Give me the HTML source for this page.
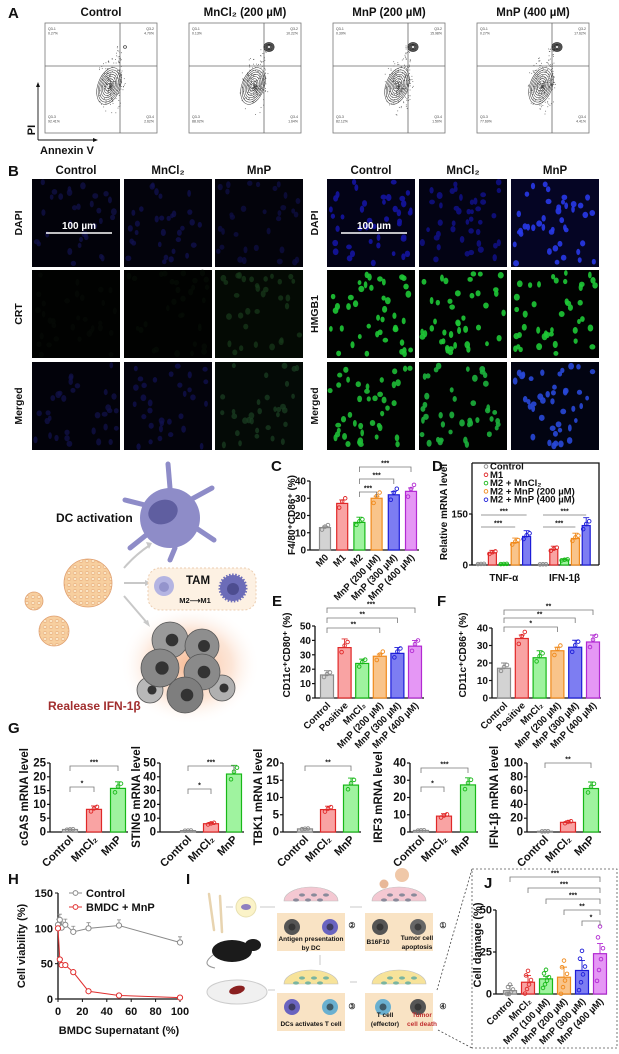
<!DOCTYPE html>
<html><head><meta charset="utf-8"><style>
html,body{margin:0;padding:0;background:#fff;}
svg{display:block;font-family:"Liberation Sans",Arial,sans-serif;font-weight:bold;}
</style></head><body>
<svg id="fig" xmlns="http://www.w3.org/2000/svg" width="619" height="1054" viewBox="0 0 619 1054">
<defs>
<radialGradient id="glow" cx="50%" cy="50%" r="50%"><stop offset="0" stop-color="#f7b48a" stop-opacity="0.9"/><stop offset="0.6" stop-color="#fbd5bd" stop-opacity="0.6"/><stop offset="1" stop-color="#fff" stop-opacity="0"/></radialGradient>
<pattern id="np" width="6" height="6" patternUnits="userSpaceOnUse"><rect width="6" height="6" fill="#f7cf9f"/><ellipse cx="3" cy="3" rx="2" ry="1.4" fill="#fbe6c6" stroke="#e3a06c" stroke-width="0.5"/></pattern>
</defs>
</svg>
<script>
// ---------- DATA ----------
const flowTitles = ["Control","MnCl₂ (200 µM)","MnP (200 µM)","MnP (400 µM)"];
const flowQ1 = ["0.27%","0.13%","0.39%","0.27%"];
const flowQ2 = ["4.70%","10.22%","15.98%","17.62%"];
const flowQ3 = ["92.41%","88.02%","82.12%","77.69%"];
const flowQ4 = ["2.62%","1.64%","1.50%","4.41%"];

const cCats = ["M0","M1","M2","MnP (200 µM)","MnP (300 µM)","MnP (400 µM)"];
const cVals = [13,27,16,30,32,34];
const cErr = [0.8,2,3,1.2,1.8,2];
const cTicks = [0,10,20,30,40];

const dGroups = ["TNF-α","IFN-1β"];
const dSeriesNames = ["Control","M1","M2 + MnCl₂","M2 + MnP (200 µM)","M2 + MnP (400 µM)"];
const dTNF = [3,36,3,66,84];
const dIFN = [2,46,15,78,116];
const dTicks = [0,150];

const efCats = ["Control","Positive","MnCl₂","MnP (200 µM)","MnP (300 µM)","MnP (400 µM)"];
const eVals = [16,35,24,29,31,36];
const eErr = [3,6,3,1.5,4,4];
const eTicks = [10,20,30,40,50];
const fVals = [17,34,23,27,29,32];
const fErr = [3,2,4,2,4,4];
const fTicks = [0,10,20,30,40];

const gGenes = ["cGAS","STING","TBK1","IRF3","IFN-1β"];
const gCats = ["Control","MnCl₂","MnP"];
const gCGAS = [0.9,8.2,15.8];
const gSTING = [1,6,42];
const gTBK1 = [0.9,6.5,13.6];
const gIRF3 = [0.9,9.2,27.3];
const gIFN = [1,14,63];
const gMax = [25,50,20,40,100];
const gStep = [5,10,5,10,20];

const hX = [0,1.5,3,6,12.5,25,50,100];
const hControl = [105,112,101,105,95,100,104,80];
const hMnP = [100,56,48,48,38,11,5,2];
const hXTicks = [0,20,40,60,80,100];
const hYTicks = [0,50,100,150];

const jCats = ["Control","MnCl₂","MnP (100 µM)","MnP (200 µM)","MnP (300 µM)","MnP (400 µM)"];
const jVals = [2,7,9,10,14,24];
const jErr = [3,4,1.5,6,6,6];
const jTicks = [0,25,50];

// ---------- helpers ----------
const NS = "http://www.w3.org/2000/svg";
const svg = document.getElementById("fig");
function mk(tag, attrs, parent){ const e=document.createElementNS(NS,tag); for(const k in attrs) e.setAttribute(k,attrs[k]); (parent||svg).appendChild(e); return e; }
function txt(x,y,s,size,attrs,parent){ const a=Object.assign({x:x,y:y,"font-size":size,fill:"#111"},attrs||{}); const t=mk("text",a,parent); t.textContent=s; return t; }
let seed=7; function rnd(){ seed=(seed*16807)%2147483647; return (seed-1)/2147483646; }
const COLS=[["#d3d3d3","#8a8a8a"],["#f9a3a3","#e02828"],["#9ff39f","#18b818"],["#f9c48a","#f08a1c"],["#7d7df2","#1c1cd8"],["#e597f5","#b22ad2"]];
const GCOLS=[COLS[0],COLS[1],COLS[2]];
const DCOLS=[COLS[0],COLS[1],COLS[2],COLS[3],COLS[4]];
const PT=[-0.09,0.04,0.11];

function panelLabel(x,y,s){ const t=txt(x,y,s,15,{});
 
  }

function yAxis(g,ax,y0,yTop,max,ticks,size,name){
 const sc=v=>y0-v/max*(y0-yTop);
 const l=mk("line",{x1:ax,x2:ax,y1:y0,y2:sc(ticks[ticks.length-1]),stroke:"#111","stroke-width":1.3},g);
 
 
 ticks.forEach(v=>{ mk("line",{x1:ax-3,x2:ax,y1:sc(v),y2:sc(v),stroke:"#111","stroke-width":1.2},g);
  const t=txt(ax-4,sc(v)+3.5,String(v),size,{"text-anchor":"end"},g);
  
   });
 return sc;
}
function bracket(g,x1,x2,y,stars,drop){
 const p=mk("path",{d:`M${x1},${y+(drop===undefined?5:drop)}V${y}H${x2}V${y+(drop===undefined?5:drop)}`,fill:"none",stroke:"#777","stroke-width":0.8},g);
 
 
 const t=txt((x1+x2)/2,y-1.5,stars,7,{"text-anchor":"middle"},g);
 
 
}
function drawBars(g,name,centers,w,vals,errs,cols,sc,y0,npts){
 vals.forEach((v,i)=>{
  const c=centers[i], col=cols[i];
  const r=mk("rect",{x:c-w/2,y:sc(v),width:w,height:y0-sc(v),fill:col[0],stroke:col[1],"stroke-width":1.2},g);
  
  
  const e=errs?errs[i]:v*0.12;
  const el=mk("path",{d:`M${c},${sc(v)}V${sc(v+e)}M${c-3},${sc(v+e)}H${c+3}`,stroke:col[1],"stroke-width":0.9,fill:"none"},g);
  
  
  const n=npts||3;
  for(let k=0;k<n;k++){
   const off=n===3?PT[k]:(k/(n-1)-0.5)*0.9;
   const dx=n===3?(k-1)*3:((k*37)%7-3);
   const pt=mk("circle",{cx:c+dx,cy:sc(Math.max(0,v*(1+off)+(n>3?off*e*2:0))),r:1.8,fill:"none",stroke:col[1],"stroke-width":0.9},g);
   
   
  }
 });
}
function rotLabels(g,name,centers,cats,y0,size){
 cats.forEach((s,i)=>{ const t=txt(centers[i]+4,y0+8,s,size,{"text-anchor":"end",transform:`rotate(-45 ${centers[i]+4} ${y0+8})`},g);
  
   });
}
function yLabel(g,x,y,s,size,name){
 const t=txt(x,y,s,size,{"text-anchor":"middle",transform:`rotate(-90 ${x} ${y})`},g);
 
 
}
function xAxisLine(g,x1,x2,y,name){
 const l=mk("line",{x1:x1,x2:x2,y1:y,y2:y,stroke:"#111","stroke-width":1.3},g);
 
 
}

// ---------- Panel A ----------
panelLabel(8,18,"A");
const flowX=[45,189,333,477];
flowX.forEach((x0,i)=>{
 const g=mk("g",{});
 
 
 const cx=x0+56;
 const tt=txt(cx,16,flowTitles[i],11.5,{"text-anchor":"middle"},g);
 
 
 mk("rect",{x:x0,y:23,width:112,height:110,fill:"#fff",stroke:"#777","stroke-width":0.8},g);
 mk("line",{x1:x0+75,x2:x0+75,y1:23,y2:133,stroke:"#666","stroke-width":0.8},g);
 mk("line",{x1:x0,x2:x0+112,y1:66,y2:66,stroke:"#666","stroke-width":0.8},g);
 const qs=[[x0+3,30,"Q3-1",flowQ1[i],"start"],[x0+109,30,"Q3-2",flowQ2[i],"end"],[x0+3,118,"Q3-3",flowQ3[i],"start"],[x0+109,118,"Q3-4",flowQ4[i],"end"]];
 qs.forEach(q=>{ txt(q[0],q[1],q[2],3.5,{"text-anchor":q[4],"font-weight":"normal",fill:"#444"},g); txt(q[0],q[1]+4.5,q[3],3.5,{"text-anchor":q[4],"font-weight":"normal",fill:"#444"},g); });
 for(let k=0;k<220;k++){ const a=rnd()*6.28, rr=Math.pow(rnd(),1.6)*30; const px=x0+65+Math.cos(a)*rr*0.5, py=86+Math.sin(a)*rr;
  if(px>x0+2&&px<x0+110&&py>25&&py<131) mk("rect",{x:px,y:py,width:0.8,height:0.8,fill:"#555"},g); }
 for(let k=0;k<40;k++){ mk("rect",{x:x0+74+(rnd()-0.5)*6,y:45+rnd()*45,width:0.8,height:0.8,fill:"#555"},g); }
 for(let k=0;k<8;k++){ mk("ellipse",{cx:x0+64,cy:86,rx:2+k*1.3,ry:3+k*2.3,fill:"none",stroke:"#333","stroke-width":0.5,transform:`rotate(20 ${x0+64} 86)`},g); }
 const n2=i===0?1:5;
 for(let k=0;k<n2;k++) mk("ellipse",{cx:x0+80,cy:47,rx:1.5+k*0.9,ry:1.3+k*0.8,fill:"none",stroke:"#222","stroke-width":i===0?0.6:0.7},g);
});
mk("path",{d:"M38,140V84M38,140H96",stroke:"#111","stroke-width":0.9,fill:"none"});
mk("path",{d:"M36,87L38,82L40,87ZM93,138L98,140L93,142Z",fill:"#111"});
yLabel(svg,35,130,"PI",11,"flow");
const av=txt(40,154,"Annexin V",11,{});  

// ---------- Panel B ----------
panelLabel(8,176,"B");
const bCols=[[32,124,215],[327,419,511]];
const bRows=[179,270,362];
const bTitles=["Control","MnCl₂","MnP"];
const bRowNames=[["DAPI","CRT","Merged"],["DAPI","HMGB1","Merged"]];
const dotCol=[[["#11114a","#121250","#0f0f44"],["#050a05","#060c06","#17381a"],["#11114a","#121250","#1a3d22"]],
 [["#1414a0","#101080","#2838e8"],["#1ec836","#1ec836","#1ec836"],["#1ebc36","#1cb03c","#2848d8"]]];
const bgCol=[[["#02020a","#03030c","#03030b"],["#010201","#010201","#040a04"],["#02020a","#03030c","#040a06"]],
 [["#030316","#030314","#050524"],["#010201","#010201","#010201"],["#010201","#010201","#020412"]]];
bCols.forEach((cols,s)=>{
 cols.forEach((x0,c)=>{
  const t=txt(x0+44,174,bTitles[c],11.5,{"text-anchor":"middle"});
  
  
  bRows.forEach((y0,r)=>{
   const g=mk("g",{});
   
   
   mk("rect",{x:x0,y:y0,width:88,height:88,fill:bgCol[s][r][c]},g);
   const n=s===1?42:32;
   for(let k=0;k<n;k++){ const cx=x0+3+rnd()*82, cy=y0+3+rnd()*82;
    mk("ellipse",{cx:cx,cy:cy,rx:1.8+rnd()*1.2,ry:2.4+rnd()*1.2,fill:dotCol[s][r][c],opacity:s===1?0.9:0.75},g); }
  });
 });
 bRowNames[s].forEach((nm,r)=>yLabel(svg,(s?318:22),bRows[r]+44,nm,10.5,'micrograph-row-'+nm.toLowerCase()));
 const sb=mk("line",{x1:cols[0]+14,x2:cols[0]+80,y1:233,y2:233,stroke:"#fff","stroke-width":1.5});
 
 
 const st=txt(cols[0]+47,229,"100 µm",10,{"text-anchor":"middle",fill:"#fff"});
 
 
});

// ---------- Illustration ----------
(function(){
 const g=mk("g",{});
 
 
 mk("ellipse",{cx:190,cy:665,rx:70,ry:60,fill:"url(#glow)"},g);
 mk("path",{d:"M170,488 L168,464 M190,500 L212,488 M196,528 L214,540 M150,532 L130,548 M145,505 L125,500 M175,548 L170,560",stroke:"#8e8cc8","stroke-width":5,"stroke-linecap":"round"},g);
 mk("circle",{cx:170,cy:518,r:30,fill:"#8e8cc8"},g);
 mk("ellipse",{cx:163,cy:512,rx:15,ry:12,fill:"#5f5ea0",transform:"rotate(-20 163 512)"},g);
 const dc=txt(56,522,"DC activation",12,{},g);
 
 
 [[88,583,24],[34,601,9],[54,631,15]].forEach(p=>mk("circle",{cx:p[0],cy:p[1],r:p[2],fill:"url(#np)",stroke:"#e0a070","stroke-width":0.8},g));
 mk("path",{d:"M124,568Q135,555 150,545M124,583H148M124,596Q136,610 148,624",stroke:"#c8c8c8","stroke-width":2,fill:"none"},g);
 mk("path",{d:"M146,542L152,543L149,549ZM145,580L151,583L145,586ZM143,622L150,627L148,620Z",fill:"#c8c8c8"},g);
 mk("rect",{x:148,y:568,width:108,height:42,rx:12,fill:"#fdf1e3",stroke:"#eccdb0","stroke-dasharray":"2 2"},g);
 mk("circle",{cx:164,cy:586,r:10,fill:"#b4b4e2"},g);
 mk("circle",{cx:164,cy:587,r:5,fill:"#9494cc"},g);
 mk("circle",{cx:233,cy:588,r:13,fill:"#6c6cb8",stroke:"#6c6cb8","stroke-width":3,"stroke-dasharray":"1.5 1.5"},g);
 mk("circle",{cx:233,cy:589,r:6,fill:"#4d4d90"},g);
 txt(198,584,"TAM",11.5,{"text-anchor":"middle"},g);
 txt(195,603,"M2⟶M1",7.5,{"text-anchor":"middle"},g);
 [[150,690,13,"#b8b8b8"],[222,688,13,"#b0b0b0"],[170,640,18,"#9a9a9a"],[202,646,17,"#8e8e8e"],[160,668,19,"#888"],[202,672,18,"#8a8a8a"],[185,695,18,"#7e7e7e"]].forEach(c=>{
  mk("circle",{cx:c[0],cy:c[1],r:c[2],fill:c[3],stroke:"#555","stroke-width":0.8},g);
  mk("circle",{cx:c[0]+2,cy:c[1],r:c[2]*0.35,fill:"#333"},g); });
 const rl=txt(48,710,"Realease IFN-1β",12,{fill:"#a12e2e"},g);
 
 
})();

// ---------- Panel C ----------
(function(){
 panelLabel(271,471,"C");
 const g=mk("g",{});  
 const y0=550, sc=yAxis(g,310,y0,481,40,cTicks,10,'c');
 const centers=cCats.map((_,i)=>325+i*17.2);
 xAxisLine(g,310,419,y0,'c');
 drawBars(g,'c',centers,11,cVals,cErr,COLS,sc,y0);
 rotLabels(g,'c',centers,cCats,y0,9.5);
 yLabel(g,295,515,"F4/80⁺CD86⁺ (%)",10,'c');
 bracket(g,centers[2],centers[3],492,"***");
 bracket(g,centers[2],centers[4],479,"***");
 bracket(g,centers[2],centers[5],467,"***");
})();

// ---------- Panel D ----------
(function(){
 panelLabel(432,471,"D");
 const g=mk("g",{});  
 const y0=565;
 const fr=mk("path",{d:"M472,463H599V565",fill:"none",stroke:"#111","stroke-width":1.3},g);
  
 const sc=yAxis(g,472,y0,514,150,dTicks,10,'d');
 mk("line",{x1:472,x2:472,y1:y0,y2:463,stroke:"#111","stroke-width":1.3},g);
 xAxisLine(g,472,599,y0,'d');
 const tC=dTNF.map((_,i)=>481+i*11.4), iC=dIFN.map((_,i)=>543+i*10.8);
 drawBars(g,'d-tnf',tC,8,dTNF,dTNF.map(v=>v*0.2),DCOLS,sc,y0);
 drawBars(g,'d-ifn',iC,8,dIFN,dIFN.map(v=>v*0.2),DCOLS,sc,y0);
 [[tC,dGroups[0]],[iC,dGroups[1]]].forEach(q=>{ const t=txt((q[0][0]+q[0][4])/2,581,q[1],10,{"text-anchor":"middle"},g);
   
  bracket(g,q[0][0],q[0][4],515,"***",0); bracket(g,q[0][0],q[0][3],527,"***",0); });
 dSeriesNames.forEach((s,i)=>{ const y=469+i*8.3;
  const m=mk("circle",{cx:486,cy:y-2.5,r:1.8,fill:"none",stroke:DCOLS[i][1],"stroke-width":0.9},g);
   
  const t=txt(490,y+0.5,s,9.5,{},g);
    });
 yLabel(g,447,512,"Relative mRNA level",10,'d');
})();

// ---------- Panels E,F ----------
function efChart(label,lx,ax,xEnd,yTopV,yTop,ticks,vals,errs,start,step,brs,ylx,title,name){
 panelLabel(lx,606,label);
 const g=mk("g",{});  
 const y0=698, sc=yAxis(g,ax,y0,yTop,yTopV,ticks,10,label.toLowerCase());
 mk("line",{x1:ax,x2:ax,y1:y0,y2:sc(ticks[0]),stroke:"#111","stroke-width":1.3},g);
 const centers=vals.map((_,i)=>start+i*step);
 xAxisLine(g,ax,xEnd,y0,label.toLowerCase());
 drawBars(g,label.toLowerCase(),centers,13,vals,errs,COLS,sc,y0);
 rotLabels(g,label.toLowerCase(),centers,efCats,y0,9.5);
 yLabel(g,ylx,655,title,10,label.toLowerCase());
 brs.forEach(b=>bracket(g,centers[b[0]],centers[b[1]],b[2],b[3]));
}
efChart("E",272,315,424,50,626,[0,10,20,30,40,50],eVals,eErr,327,17.6,[[0,5,608,"***"],[0,4,618,"**"],[0,3,628,"**"]],290,"CD11c⁺CD80⁺ (%)",'chart-e');
efChart("F",437,492,601,40,628,fTicks,fVals,fErr,504,17.8,[[0,5,610,"**"],[0,4,618,"**"],[0,3,627,"*"]],466,"CD11c⁺CD86⁺ (%)",'chart-f');

// ---------- Panel G ----------
panelLabel(8,733,"G");
const gAxes=[50,160,283,410,527];
const gOff=[[20,44,68],[28,51,74],[22,45,68],[11,34,58],[18,41,64]];
const gYl=[28,140,262,382,498];
const gData=[gCGAS,gSTING,gTBK1,gIRF3,gIFN];
const gBr=[[["***",766],["*",787]],[["***",766],["*",789]],[["**",766]],[["***",768],["*",787]],[["**",763]]];
gGenes.forEach((gene,k)=>{
 const g=mk("g",{});  
 const ticks=[]; for(let v=0;v<=gMax[k];v+=gStep[k]) ticks.push(v);
 const y0=832, ax=gAxes[k], sc=yAxis(g,ax,y0,763,gMax[k],ticks,11.5,'g'+k);
 const centers=gOff[k].map(o=>ax+o);
 xAxisLine(g,ax,ax+gOff[k][2]+10,y0,'g'+k);
 drawBars(g,'g-'+gene,centers,15,gData[k],gData[k].map(v=>v*0.15),GCOLS,sc,y0);
 rotLabels(g,'g'+k,centers,gCats,y0,11);
 yLabel(g,gYl[k],797,gene+" mRNA level",11.5,'g'+k);
 gBr[k].forEach(b=>bracket(g,centers[0],centers[b[0]==="*"?1:2],b[1],b[0]));
});

// ---------- Panel H ----------
(function(){
 panelLabel(8,884,"H");
 const g=mk("g",{});  
 const y0=999, sx=v=>58+v/100*122, sy=v=>999-v/150*106;
 mk("line",{x1:58,x2:58,y1:y0,y2:893,stroke:"#111","stroke-width":1.3},g);
 hYTicks.forEach(v=>{ mk("line",{x1:55,x2:58,y1:sy(v),y2:sy(v),stroke:"#111"},g);
  const t=txt(53,sy(v)+4,String(v),11,{"text-anchor":"end"},g);   });
 xAxisLine(g,58,181,y0,'h');
 hXTicks.forEach(v=>{ mk("line",{x1:sx(v),x2:sx(v),y1:y0,y2:y0+3,stroke:"#111"},g);
  const t=txt(sx(v),1015,String(v),11,{"text-anchor":"middle"},g);   });
 [[hControl,"#8a8a8a","control"],[hMnP,"#e03030","bmdc-mnp"]].forEach(s=>{
  const l=mk("polyline",{points:hX.map((x,i)=>sx(x)+","+sy(s[0][i])).join(" "),fill:"none",stroke:s[1],"stroke-width":1},g);
   
  hX.forEach((x,i)=>{ if(s[2]==="control"){ mk("path",{d:`M${sx(x)},${sy(s[0][i])}V${sy(s[0][i]+8)}M${sx(x)-2},${sy(s[0][i]+8)}H${sx(x)+2}`,stroke:s[1],"stroke-width":0.8},g);}
   const p=mk("circle",{cx:sx(x),cy:sy(s[0][i]),r:2.6,fill:"#fff",stroke:s[1],"stroke-width":1},g);
     });
 });
 [["Control","#8a8a8a",893],["BMDC + MnP","#e03030",907]].forEach(e=>{
  mk("line",{x1:69,x2:82,y1:e[2],y2:e[2],stroke:e[1]},g);
  mk("circle",{cx:75.5,cy:e[2],r:2.4,fill:"#fff",stroke:e[1]},g);
  const t=txt(86,e[2]+4,e[0],11,{},g);   });
 const xl=txt(119,1034,"BMDC Supernatant (%)",11,{"text-anchor":"middle"},g);  
 yLabel(g,25,946,"Cell viability (%)",11,'h');
})();

// ---------- Panel I ----------
(function(){
 panelLabel(186,884,"I");
 const g=mk("g",{});  
 mk("path",{d:"M209,894L214,930M220,896L222,932",stroke:"#e8d4b0","stroke-width":2.5,"stroke-linecap":"round"},g);
 mk("circle",{cx:246,cy:907,r:10,fill:"#fbf3c8",stroke:"#e8e0b0"},g);
 mk("ellipse",{cx:246,cy:907,rx:5,ry:3,fill:"#8e80c0"},g);
 mk("path",{d:"M226,907H233M260,907H275M362,907H350M320,955V965M268,990H275M350,982H357",stroke:"#c8c8c8","stroke-width":1},g);
 mk("ellipse",{cx:232,cy:951,rx:20,ry:11,fill:"#1b1b1b"},g);
 mk("ellipse",{cx:253,cy:945,rx:8,ry:6,fill:"#1b1b1b"},g);
 mk("path",{d:"M213,955Q200,965 215,968",stroke:"#999",fill:"none"},g);
 mk("ellipse",{cx:237,cy:992,rx:30,ry:12,fill:"#f0f0f0",stroke:"#ccc"},g);
 mk("ellipse",{cx:237,cy:990,rx:8,ry:4,fill:"#8a2020",transform:"rotate(-15 237 990)"},g);
 const boxes=[[277,913,"#f9e3c4"],[365,913,"#f9e3c4"],[277,993,"#f9e3c4"],[365,993,"#f9e3c4"]];
 const dishes=[[311,897,"#f4c8d2"],[399,897,"#f4c8d2"],[311,980,"#f7e39a"],[399,980,"#f7e39a"]];
 boxes.forEach((b,i)=>{ mk("rect",{x:b[0],y:b[1],width:68,height:38,fill:b[2]},g);
  mk("path",{d:`M${dishes[i][0]-27},${dishes[i][1]+4}A27,14 0 0,1 ${dishes[i][0]+27},${dishes[i][1]+4}Z`,fill:dishes[i][2],stroke:"#bbb","stroke-width":0.6},g);
  for(let k=0;k<6;k++) mk("ellipse",{cx:dishes[i][0]-15+k*6,cy:dishes[i][1]+(k%2?-2:3),rx:3,ry:1.6,fill:i<2?"#8a8a9a":"#7ab5a0"},g); });
 [[292,927,"#555"],[330,927,"#6a64c0"],[380,927,"#555"],[418,927,"#666"],[292,1007,"#6a64c0"],[330,1007,"#6ab0d0"],[383,1007,"#6ab0d0"],[418,1007,"#555"]].forEach(c=>{
  mk("circle",{cx:c[0],cy:c[1],r:8,fill:c[2]},g); mk("circle",{cx:c[0],cy:c[1],r:3.5,fill:"#222",opacity:0.6},g); });
 mk("circle",{cx:402,cy:875,r:7,fill:"#f0c8a8"},g); mk("circle",{cx:384,cy:884,r:4.5,fill:"#e8b898"},g);
 [["Antigen presentation",311,941,"#111"],["by DC",311,950,"#111"],["B16F10",378,944,"#111"],["Tumor cell",417,940,"#111"],["apoptosis",417,949,"#111"],["DCs activates T cell",311,1026,"#111"],["T cell",385,1017,"#111"],["(effector)",385,1026,"#111"],["Tumor",422,1017,"#c03030"],["cell death",422,1026,"#c03030"],["②",352,928,"#333"],["①",443,928,"#333"],["③",352,1009,"#333"],["④",443,1009,"#333"]].forEach(s=>{
  const t=txt(s[1],s[2],s[0],s[0].length<2?8:6.5,{"text-anchor":"middle",fill:s[3]},g);
    });
 const dl=mk("path",{d:"M437,990L472,869M438,1030L472,1048",stroke:"#444","stroke-width":0.8,"stroke-dasharray":"2 2",fill:"none"},g);
  
})();

// ---------- Panel J ----------
(function(){
 const box=mk("rect",{x:472,y:869,width:145,height:179,fill:"none",stroke:"#555","stroke-width":0.8,"stroke-dasharray":"2 2"});
  
 panelLabel(484,888,"J");
 const g=mk("g",{});  
 const y0=994, sc=yAxis(g,496,y0,910,50,jTicks,11,'j');
 const centers=jVals.map((_,i)=>510+i*18);
 xAxisLine(g,496,607,y0,'j');
 drawBars(g,'j',centers,13,jVals,jErr,COLS,sc,y0,6);
 rotLabels(g,'j',centers,jCats,y0,9.5);
 yLabel(g,481,945,"Cell damage (%)",11,'j');
 [[0,877,"***"],[1,888,"***"],[2,899,"***"],[3,910,"**"],[4,921,"*"]].forEach(b=>bracket(g,centers[b[0]],centers[5],b[1],b[2]));
})();
</script>
</body></html>
